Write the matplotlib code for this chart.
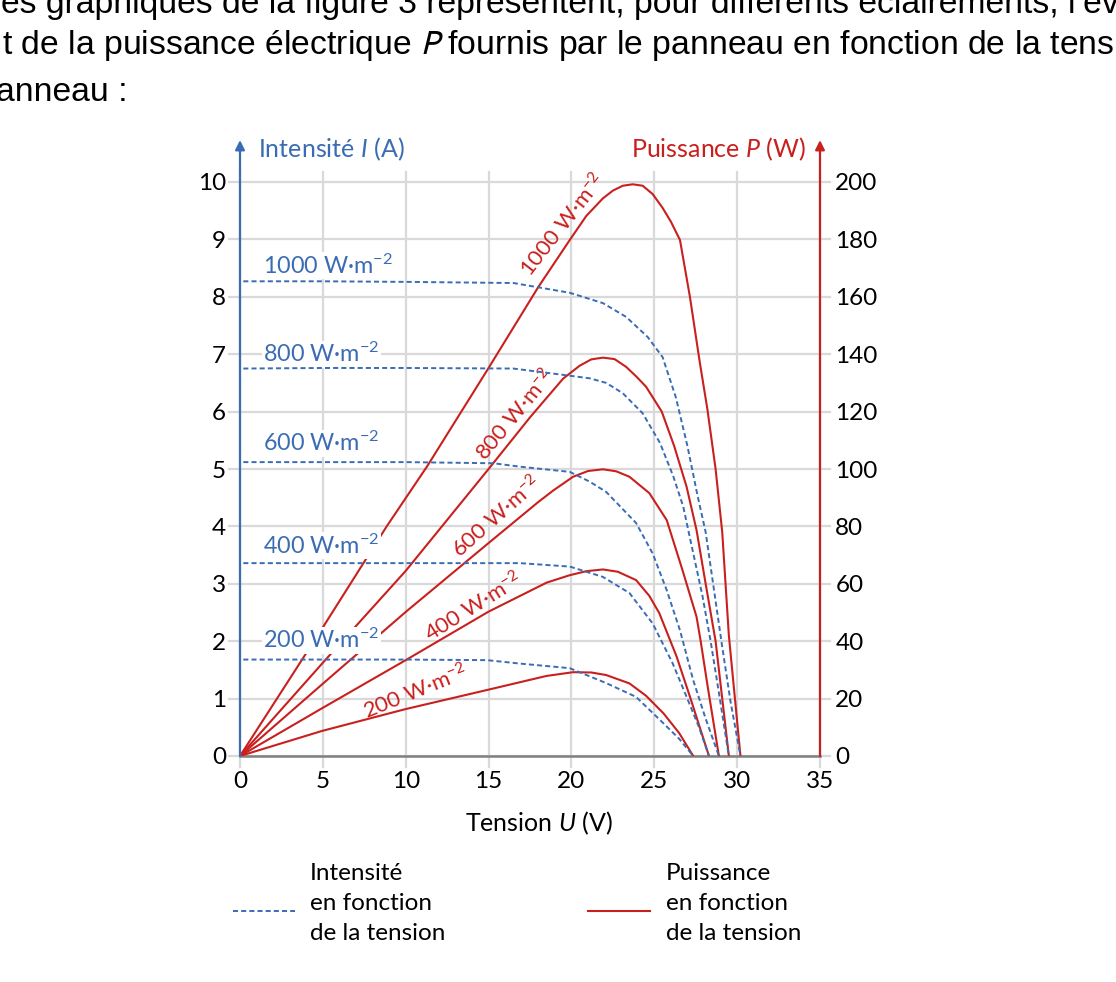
import matplotlib
matplotlib.use("Agg")
import matplotlib.pyplot as plt
from matplotlib.lines import Line2D

W, H = 1116, 982
BLUE = "#3a6cb4"
RED = "#c8201e"
GRID = "#d9d9d9"

plt.rcParams["font.family"] = ["Lato", "DejaVu Sans"]
plt.rcParams["mathtext.fontset"] = "custom"
plt.rcParams["mathtext.rm"] = "Lato"
plt.rcParams["mathtext.it"] = "Lato:italic"
plt.rcParams["mathtext.bf"] = "Lato:bold"

labels = ["200", "400", "600", "800", "1000"]

# intensity I (A) vs tension U (V)
u_i_200 = [0.2, 5, 10, 14.9, 16.9, 19.9, 22.1, 23.9, 25.55, 26.5, 27.35]
i_200 = [1.68, 1.68, 1.68, 1.67, 1.61, 1.53, 1.27, 1.03, 0.57, 0.3, 0]
u_i_400 = [0.2, 5, 10, 16.9, 19.9, 21.9, 23.5, 24.9, 26.1, 26.95, 27.7, 28.3]
i_400 = [3.36, 3.36, 3.36, 3.36, 3.30, 3.12, 2.84, 2.31, 1.62, 1.03, 0.5, 0]
u_i_600 = [0.2, 5, 10, 15.3, 16.9, 19.9, 21.1, 22.1, 23.9, 24.9, 25.75, 26.55, 27.35, 28.1, 28.9]
i_600 = [5.12, 5.12, 5.12, 5.10, 5.04, 4.95, 4.78, 4.6, 4.06, 3.53, 2.89, 2.19, 1.32, 0.65, 0]
u_i_800 = [0.2, 5, 10, 16.5, 19.5, 21.1, 22.1, 23.1, 24.3, 25.35, 26.15, 26.75, 27.3, 27.9, 28.4, 28.9, 29.5]
i_800 = [6.75, 6.76, 6.76, 6.75, 6.64, 6.58, 6.5, 6.32, 5.97, 5.45, 4.87, 4.34, 3.6, 2.8, 2.0, 1.1, 0]
u_i_1000 = [0.2, 5, 10, 16.5, 19.9, 21.9, 23.3, 24.6, 25.5, 26.3, 27.0, 27.6, 28.1, 28.6, 29.1, 29.6, 30.2]
i_1000 = [8.27, 8.27, 8.26, 8.24, 8.07, 7.89, 7.65, 7.3, 6.95, 6.25, 5.4, 4.55, 3.9, 2.9, 1.9, 0.95, 0]

# puissance P (W) vs tension U (V)
u_p_200 = [0, 4.93, 9.96, 14.98, 18.5, 20.1, 21.2, 22.1, 23.5, 24.5, 25.55, 26.5, 27.35]
p_200 = [0, 8.7, 16.3, 23.1, 27.9, 29.2, 29.1, 28.2, 25.3, 21.0, 14.9, 8.0, 0]
u_p_400 = [0, 5, 10, 15, 18.5, 19.9, 20.9, 21.9, 22.8, 23.9, 24.7, 25.3, 26.35, 27.15, 28.3]
p_400 = [0, 16.8, 33.4, 50.3, 60.4, 63.0, 64.4, 65, 64.2, 61.3, 55.8, 49.8, 34.6, 20.7, 0]
u_p_600 = [0, 5, 10, 15, 18, 18.9, 20.1, 21.0, 21.9, 22.7, 23.5, 24.7, 25.75, 26.7, 27.55, 27.8, 28.2, 28.9]
p_600 = [0, 25.2, 50.2, 74.2, 88.5, 92.5, 97.3, 99.3, 99.9, 99.2, 97.3, 91.6, 82.2, 64.8, 48.5, 40, 25, 0]
u_p_800 = [0, 5, 10, 15, 17.5, 19.5, 20.5, 21.2, 21.9, 22.6, 23.3, 23.9, 24.5, 25.45, 26.2, 26.95, 27.55, 28.1, 28.7, 29.5]
p_800 = [0, 32.5, 64.5, 100, 118, 131.5, 136, 138.2, 138.8, 138.3, 135.6, 132.3, 128.7, 120, 108, 93.8, 78.7, 60, 40, 0]
u_p_1000 = [0, 5.03, 8.85, 11.3, 15, 18, 19.9, 20.9, 21.9, 22.5, 23.1, 23.7, 24.3, 24.9, 25.5, 26.0, 26.55,
            27.15, 27.75, 28.2, 28.7, 29.1, 29.5, 30.2]
p_1000 = [0, 45.1, 80, 101, 135.2, 163.4, 179.8, 188.2, 194.3, 197, 198.7, 199.2, 198.7, 195.8, 191, 186.2, 179.8,
          160, 137, 121, 100, 78, 42, 0]

i_curves = [(u_i_200, i_200), (u_i_400, i_400), (u_i_600, i_600), (u_i_800, i_800), (u_i_1000, i_1000)]
p_curves = [(u_p_200, p_200), (u_p_400, p_400), (u_p_600, p_600), (u_p_800, p_800), (u_p_1000, p_1000)]

# label placement (data coords)
blue_lab_y = [2.02, 3.66, 5.45, 7.0, 8.54]
red_lab_pos = [(10.62, 22.3, 22), (14.12, 51.9, 32), (15.5, 83.3, 41.5), (16.65, 118.8, 50.5), (19.5, 185, 52)]


def fx(x):
    return x / W


def fy(y):
    return 1 - y / H


fig = plt.figure(figsize=(W / 100, H / 100), dpi=100)
ax = fig.add_axes([fx(240), fy(756), 580 / W, 574 / H])
ax2 = ax.twinx()
ax.set_xlim(0, 35)
ax.set_ylim(0, 10)
ax2.set_ylim(0, 200)
for a in (ax, ax2):
    for s in a.spines.values():
        s.set_visible(False)

# grid, drawn a bit past the frame like ticks
for u in range(0, 36, 5):
    ax.plot([u, u], [-0.2, 10.17], color=GRID, lw=1.6, clip_on=False, zorder=0)
for i in range(0, 11):
    ax.plot([-0.66, 35.6], [i, i], color=GRID, lw=1.6, clip_on=False, zorder=0)
ax.plot([0, 35], [0, 0], color="#808080", lw=1.8, clip_on=False, zorder=1)

ax.set_xticks(range(0, 36, 5))
ax.set_yticks(range(0, 11))
ax2.set_yticks(range(0, 201, 20))
ax.tick_params(axis="both", length=0, labelsize=17.5)
ax.tick_params(axis="y", pad=10)
ax.tick_params(axis="x", pad=11)
ax2.tick_params(axis="y", length=0, labelsize=17.5, pad=11)

# red curves under the white label boxes, blue dashes above them
for u, p in p_curves:
    ax2.plot(u, p, color=RED, lw=1.5, zorder=2)
for u, i in i_curves:
    ax2.plot(u, i, transform=ax.transData, color=BLUE, lw=1.4, ls=(0, (2.6, 1.6)), zorder=6)

for lab, y in zip(labels, blue_lab_y):
    ax2.text(1.39, y, lab + r" W·m$^{-2}$", transform=ax.transData, color=BLUE,
             fontsize=16.8, ha="left", va="center", zorder=5,
             bbox=dict(facecolor="white", edgecolor="none", pad=1.0))
for lab, (x, y, rot) in zip(labels, red_lab_pos):
    ax2.text(x, y, lab + r" W·m$^{-2}$", color=RED, fontsize=16, rotation=rot,
             rotation_mode="anchor", ha="center", va="center", zorder=5)

# axis arrows
ax2.annotate("", xy=(0, 10.73), xytext=(0, 0), xycoords=ax.transData, textcoords=ax.transData,
             arrowprops=dict(arrowstyle="-|>", color=BLUE, lw=1.6, mutation_scale=14,
                             shrinkA=0, shrinkB=0), annotation_clip=False)
ax2.annotate("", xy=(35, 10.73), xytext=(35, 0), xycoords=ax.transData, textcoords=ax.transData,
             arrowprops=dict(arrowstyle="-|>", color=RED, lw=1.6, mutation_scale=14,
                             shrinkA=0, shrinkB=0), annotation_clip=False)

fig.text(fx(258), fy(149), r"Intensité $I$ (A)", color=BLUE, fontsize=18, ha="left", va="center")
fig.text(fx(806), fy(149), r"Puissance $P$ (W)", color=RED, fontsize=18, ha="right", va="center")
fig.text(fx(539), fy(823), r"Tension $U$ (V)", color="black", fontsize=18, ha="center", va="center")

# legend
fig.add_artist(Line2D([fx(233), fx(295)], [fy(911), fy(911)], transform=fig.transFigure,
                      color=BLUE, lw=1.4, ls=(0, (2.6, 1.6))))
fig.add_artist(Line2D([fx(588), fx(650)], [fy(911), fy(911)], transform=fig.transFigure,
                      color=RED, lw=1.5))
for x0, first in ((310, "Intensité"), (666, "Puissance")):
    for yy, txt in zip((873, 903, 933), (first, "en fonction", "de la tension")):
        fig.text(fx(x0), fy(yy), txt, fontsize=17.5, ha="left", va="center")

# text of the page above the figure (cut at the edges)
top_font = dict(family="Liberation Sans", fontsize=24.3, va="baseline", math_fontfamily="stixsans")
fig.text(fx(1), fy(13), "es graphiques de la figure 3 représentent, pour différents éclairements, l’évolution", **top_font)
fig.text(fx(2), fy(54), "t de la puissance électrique $P$ fournis par le panneau en fonction de la tension", **top_font)
fig.text(fx(-4), fy(101), "anneau :", **top_font)

fig.savefig("out.png", dpi=100)
